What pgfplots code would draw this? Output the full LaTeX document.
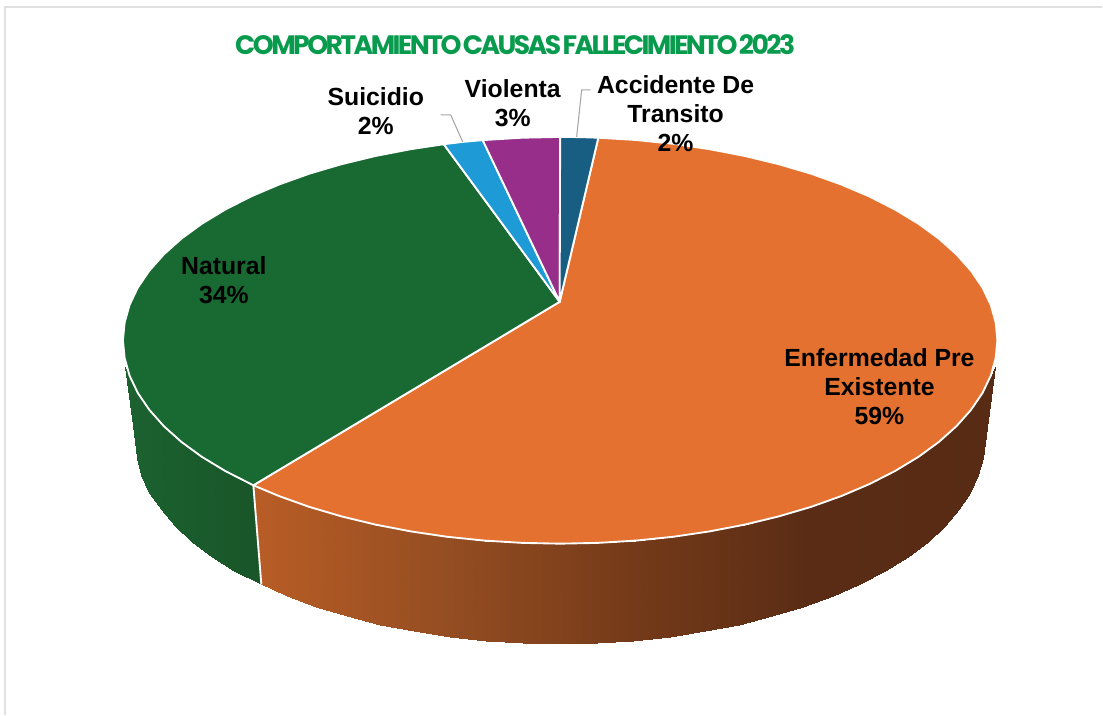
\documentclass[border=0pt]{standalone}
\usepackage{fontspec}
\usepackage{pgfplots}
\pgfplotsset{compat=1.18}
\setmainfont{Liberation Sans}
\newfontfamily\titlefont[LetterSpace=-9.6,WordSpace=0.45]{Poppins}

\definecolor{cOrange}{RGB}{229,113,48}
\definecolor{cGreen}{RGB}{24,106,50}
\definecolor{cSky}{RGB}{30,155,215}
\definecolor{cViolet}{RGB}{150,46,138}
\definecolor{cBlue}{RGB}{24,94,130}
\definecolor{cTitle}{RGB}{8,155,78}

\pgfplotsset{
  colormap={orangeside}{rgb255=(185,93,38) rgb255=(150,78,34) rgb255=(118,59,25) rgb255=(90,44,21) rgb255=(88,43,21)},
  colormap={greenside}{rgb255=(28,98,48) rgb255=(25,85,40)},
  wedge/.style={draw=white,line width=1.4pt,line join=round},
}
\tikzset{
  lab/.style={font=\fontsize{18.6}{21.7}\selectfont\bfseries,align=center,text=black,inner sep=0pt},
}

\begin{document}
\begin{tikzpicture}
\begin{axis}[
  scale only axis,
  width=827.25pt, height=536.25pt,
  xmin=0, xmax=1103, ymin=0, ymax=715,
  y dir=reverse,
  hide axis,
  clip=false,
]
% white page, keeps the picture at full size
\addplot[draw=none,fill=white] coordinates {(0,0) (1103,0) (1103,715) (0,715)} -- cycle;
% page frame
\addplot[draw=black!12,line width=1pt] coordinates {(5,715) (5,7) (1103,7)};

% side of the green slice
\addplot[surf,shader=interp,mesh/rows=2,point meta=x,point meta rel=per plot,colormap name=greenside] table {
125 367
126.5 370.6
129.6 375.8
137.9 393.2
149.4 410.1
164.0 426.5
181.6 442.25
202.1 457.2
225.4 471.3
253.5 485.6
135 440
136.6 457.8
141.5 475.4
149.5 492.8
160.6 509.8
174.8 526.2
191.9 542
211.8 557
234.4 571.1
261.5 584.8
};

% side of the orange slice
\addplot[surf,shader=interp,mesh/rows=2,point meta=x,point meta rel=per plot,colormap name=orangeside] table {
253.5 485.6
279.3 496.4
309.5 507.2
341.75 516.7
375.6 524.9
410.9 531.7
447.3 537.1
484.55 540.9
522.3 543.2
560.5 544
598.7 543.2
636.45 540.9
673.7 537.1
710.1 531.7
745.4 524.9
779.25 516.7
811.5 507.2
841.7 496.4
869.9 484.4
895.6 471.3
918.9 457.2
939.4 442.25
957.0 426.5
971.6 410.1
983.1 393.2
991.4 375.8
993.5 372
996 367
261.5 584.8
286.8 596.3
316.2 607.1
347.5 616.7
380.4 624.9
414.6 631.7
450 637
486.2 640.9
522.9 643.2
560 644
597.1 643.2
633.8 640.9
670 637
705.4 631.7
739.6 624.9
772.5 616.7
803.8 607.1
833.2 596.3
860.5 584.2
885.6 571.1
908.2 557
928.1 542
945.2 526.2
959.4 509.8
970.5 492.8
978.5 475.4
983.4 457.8
985 440
};
% white seam between the two sides
\addplot[draw=white,line width=1.4pt] coordinates {(253.5,485.6) (261.5,584.8)};

% top: Enfermedad Pre Existente 59%
\addplot[wedge,fill=cOrange] coordinates {
(560,302) (598.7,137.8) (636.45,140.1) (673.7,143.9) (710.1,149.3) (745.4,156.1)
(779.25,164.3) (811.5,173.8) (841.7,184.6) (869.9,196.6) (895.6,209.7) (918.9,223.8)
(939.4,238.75) (957.0,254.5) (971.6,270.9) (983.1,287.8) (991.4,305.2) (996.3,322.8)
(998,340.5) (996.3,358.2) (991.4,375.8) (983.1,393.2) (971.6,410.1) (957.0,426.5)
(939.4,442.25) (918.9,457.2) (895.6,471.3) (869.9,484.4) (841.7,496.4) (811.5,507.2)
(779.25,516.7) (745.4,524.9) (710.1,531.7) (673.7,537.1) (636.45,540.9) (598.7,543.2)
(560.5,544) (522.3,543.2) (484.55,540.9) (447.3,537.1) (410.9,531.7) (375.6,524.9)
(341.75,516.7) (309.5,507.2) (279.3,496.4) (253.5,485.6)
} -- cycle;

% top: Natural 34%
\addplot[wedge,fill=cGreen] coordinates {
(560,302) (253.5,485.6) (225.4,471.3) (202.1,457.2) (181.6,442.25) (164.0,426.5)
(149.4,410.1) (137.9,393.2) (129.6,375.8) (124.7,358.2) (123,340.5) (124.7,322.8)
(129.6,305.2) (137.9,287.8) (149.4,270.9) (164.0,254.5) (181.6,238.75) (202.1,223.8)
(225.4,209.7) (251.1,196.6) (279.3,184.6) (309.5,173.8) (341.75,164.3) (375.6,156.1)
(410.9,149.3) (444,144.3)
} -- cycle;

% top: Suicidio 2%
\addplot[wedge,fill=cSky] coordinates {
(560,302) (444,144.3) (463,142) (483,140.2)
} -- cycle;

% top: Violenta 3%
\addplot[wedge,fill=cViolet] coordinates {
(560,302) (483,140.2) (522.3,137.8) (560.5,137)
} -- cycle;

% top: Accidente De Transito 2%
\addplot[wedge,fill=cBlue] coordinates {
(560,302) (560.5,137) (580,137.2) (598.7,137.8)
} -- cycle;

% leader lines
\addplot[draw=black!35,line width=0.8pt] coordinates {(441,115) (451,115) (463,142)};
\addplot[draw=black!35,line width=0.8pt] coordinates {(591,90) (582,90) (577,137)};

\node[anchor=center,font=\titlefont\bfseries\fontsize{20}{24}\selectfont,text=cTitle,inner sep=0pt] at (axis cs:515.5,45) {COMPORTAMIENTO CAUSAS FALLECIMIENTO 2023};

\node[lab] at (axis cs:676,113.5) {Accidente De\\Transito\\2\%};
\node[lab] at (axis cs:376,111.5) {Suicidio\\2\%};
\node[lab] at (axis cs:513,103) {Violenta\\3\%};
\node[lab] at (axis cs:224,280.5) {Natural\\34\%};
\node[lab] at (axis cs:880,387) {Enfermedad Pre\\Existente\\59\%};
\end{axis}
\end{tikzpicture}
\end{document}
